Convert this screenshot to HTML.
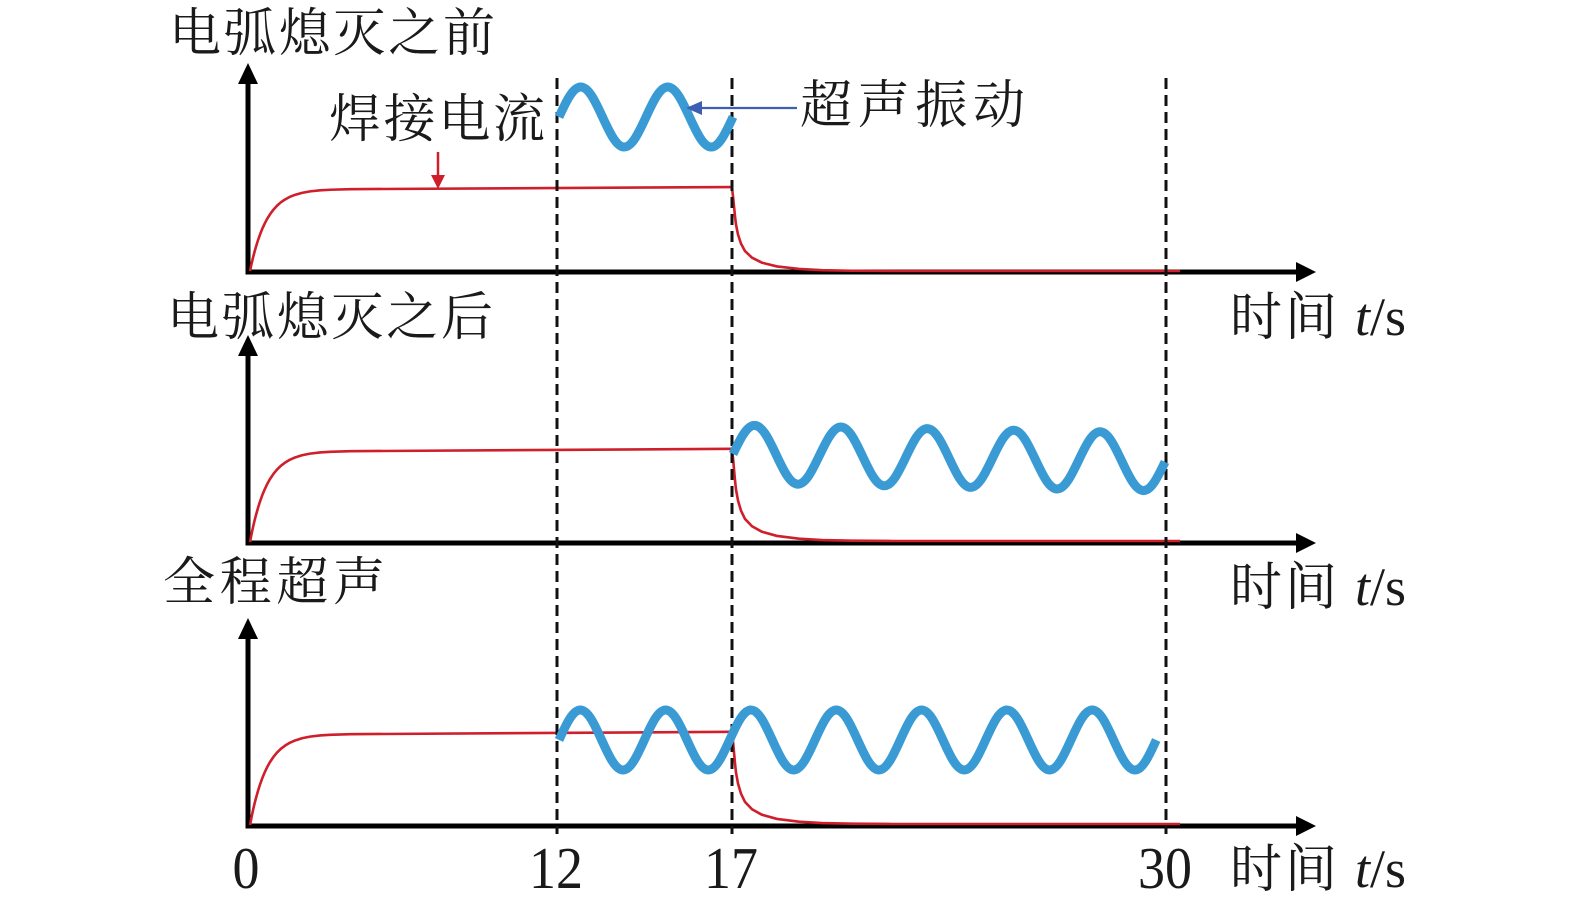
<!DOCTYPE html>
<html>
<head>
<meta charset="utf-8">
<style>
html,body{margin:0;padding:0;background:#fff;}
svg{display:block;}
.cn{font-family:"Liberation Serif","Noto Serif CJK SC",serif;font-size:52px;fill:#1a1a1a;}
.num{font-family:"Liberation Serif",serif;font-size:54px;fill:#1a1a1a;}
</style>
</head>
<body>
<svg width="1575" height="911" viewBox="0 0 1575 911" xmlns="http://www.w3.org/2000/svg">
<rect width="1575" height="911" fill="#fff"/>

<!-- ===== Titles ===== -->
<text class="cn" x="169" y="51" textLength="326" lengthAdjust="spacing">电弧熄灭之前</text>
<text class="cn" x="167" y="335" textLength="326" lengthAdjust="spacing">电弧熄灭之后</text>
<text class="cn" x="163" y="600" textLength="222" lengthAdjust="spacing">全程超声</text>
<text class="cn" x="329" y="137" textLength="216" lengthAdjust="spacing">焊接电流</text>
<text class="cn" x="800" y="123" textLength="225" lengthAdjust="spacing">超声振动</text>

<!-- time labels -->
<g>
<text class="cn" x="1230" y="335" textLength="107" lengthAdjust="spacing">时间</text>
<text class="num" x="1355" y="335"><tspan font-style="italic">t</tspan>/s</text>
<text class="cn" x="1230" y="605" textLength="107" lengthAdjust="spacing">时间</text>
<text class="num" x="1355" y="605"><tspan font-style="italic">t</tspan>/s</text>
<text class="cn" x="1230" y="887" textLength="107" lengthAdjust="spacing">时间</text>
<text class="num" x="1355" y="887"><tspan font-style="italic">t</tspan>/s</text>
</g>

<!-- tick labels -->
<g class="num" text-anchor="middle">
<text transform="translate(246,888) scale(1,1.1)">0</text>
<text transform="translate(556,888) scale(1,1.1)">12</text>
<text transform="translate(731,888) scale(1,1.1)">17</text>
<text transform="translate(1165,888) scale(1,1.1)">30</text>
</g>

<!-- ===== Axes ===== -->
<g stroke="#000" stroke-width="5" fill="none">
  <line x1="248" y1="274" x2="248" y2="80"/>
  <line x1="245.5" y1="272" x2="1300" y2="272"/>
  <line x1="248" y1="545" x2="248" y2="352"/>
  <line x1="245.5" y1="543" x2="1300" y2="543"/>
  <line x1="248" y1="828" x2="248" y2="636"/>
  <line x1="245.5" y1="826" x2="1300" y2="826"/>
</g>
<g fill="#000">
  <polygon points="248,63 258,84 238,84"/>
  <polygon points="248,335 258,356 238,356"/>
  <polygon points="248,618 258,639 238,639"/>
  <polygon points="1316,272 1296,262 1296,282"/>
  <polygon points="1316,543 1296,533 1296,553"/>
  <polygon points="1316,826 1296,816 1296,836"/>
</g>

<!-- ===== Red current curves ===== -->
<g fill="none" stroke="#cf1f2b" stroke-width="2.6" stroke-linejoin="round">
  <g transform="translate(250,271) scale(1,-82)">
    <path vector-effect="non-scaling-stroke" d="M0,0 L1.5,.084 3,.162 4.5,.233 6,.297 8,.375 10,.445 12.5,.521 15,.586 17.5,.643 20,.692 23.5,.749 27,.796 31,.839 35,.872 40,.905 45,.929 52,.953 60,.971 70,.984 80,.991 100,.998 482,1.024"/>
  </g>
  <g transform="translate(732,271) scale(1,-83)">
    <path vector-effect="non-scaling-stroke" d="M0,1 L1,.9 2,.78 3,.66 4,.56 6,.44 9,.33 13,.24 20,.16 30,.10 45,.055 67,.025 90,.01 120,.003 160,0 448,0"/>
  </g>
  <g transform="translate(250,542) scale(1,-91)">
    <path vector-effect="non-scaling-stroke" d="M0,0 L1.5,.084 3,.162 4.5,.233 6,.297 8,.375 10,.445 12.5,.521 15,.586 17.5,.643 20,.692 23.5,.749 27,.796 31,.839 35,.872 40,.905 45,.929 52,.953 60,.971 70,.984 80,.991 100,.998 482,1.024"/>
  </g>
  <g transform="translate(732,541) scale(1,-92)">
    <path vector-effect="non-scaling-stroke" d="M0,1 L1,.9 2,.78 3,.66 4,.56 6,.44 9,.33 13,.24 20,.16 30,.10 45,.055 67,.025 90,.01 120,.003 160,0 448,0"/>
  </g>
  <g transform="translate(250,825) scale(1,-91)">
    <path vector-effect="non-scaling-stroke" d="M0,0 L1.5,.084 3,.162 4.5,.233 6,.297 8,.375 10,.445 12.5,.521 15,.586 17.5,.643 20,.692 23.5,.749 27,.796 31,.839 35,.872 40,.905 45,.929 52,.953 60,.971 70,.984 80,.991 100,.998 482,1.024"/>
  </g>
  <g transform="translate(732,824) scale(1,-92)">
    <path vector-effect="non-scaling-stroke" d="M0,1 L1,.9 2,.78 3,.66 4,.56 6,.44 9,.33 13,.24 20,.16 30,.10 45,.055 67,.025 90,.01 120,.003 160,0 448,0"/>
  </g>
</g>

<!-- red arrow for 焊接电流 -->
<line x1="438" y1="152" x2="438" y2="177" stroke="#cf1f2b" stroke-width="2.5"/>
<polygon points="431,175 445,175 438,189" fill="#cf1f2b"/>

<!-- ===== Dashed lines ===== -->
<g stroke="#111" stroke-width="3" stroke-dasharray="11 6">
<line x1="557" y1="78" x2="557" y2="834"/>
<line x1="732" y1="78" x2="732" y2="834"/>
<line x1="1166" y1="78" x2="1166" y2="834"/>
</g>

<!-- ===== Blue ultrasonic waves ===== -->
<g fill="none" stroke="#3a9bd4" stroke-width="9" stroke-linecap="butt" stroke-linejoin="round">
  <g transform="translate(559,117) scale(21.75,30)">
    <path vector-effect="non-scaling-stroke" d="M0,0
      c .3343,-.5251 .6411,-1 1,-1 c .3589,0 .6657,.4749 1,1 c .3343,.5251 .6411,1 1,1 c .3589,0 .6657,-.4749 1,-1
      c .3343,-.5251 .6411,-1 1,-1 c .3589,0 .6657,.4749 1,1 c .3343,.5251 .6411,1 1,1 c .3589,0 .6657,-.4749 1,-1"/>
  </g>
  <g transform="translate(733,454) skewY(1.06) scale(21.6,29)">
    <path vector-effect="non-scaling-stroke" d="M0,0
      c .3343,-.5251 .6411,-1 1,-1 c .3589,0 .6657,.4749 1,1 c .3343,.5251 .6411,1 1,1 c .3589,0 .6657,-.4749 1,-1
      c .3343,-.5251 .6411,-1 1,-1 c .3589,0 .6657,.4749 1,1 c .3343,.5251 .6411,1 1,1 c .3589,0 .6657,-.4749 1,-1
      c .3343,-.5251 .6411,-1 1,-1 c .3589,0 .6657,.4749 1,1 c .3343,.5251 .6411,1 1,1 c .3589,0 .6657,-.4749 1,-1
      c .3343,-.5251 .6411,-1 1,-1 c .3589,0 .6657,.4749 1,1 c .3343,.5251 .6411,1 1,1 c .3589,0 .6657,-.4749 1,-1
      c .3343,-.5251 .6411,-1 1,-1 c .3589,0 .6657,.4749 1,1 c .3343,.5251 .6411,1 1,1 c .3589,0 .6657,-.4749 1,-1"/>
  </g>
  <g transform="translate(559,740) scale(21.33,30)">
    <path vector-effect="non-scaling-stroke" d="M0,0
      c .3343,-.5251 .6411,-1 1,-1 c .3589,0 .6657,.4749 1,1 c .3343,.5251 .6411,1 1,1 c .3589,0 .6657,-.4749 1,-1
      c .3343,-.5251 .6411,-1 1,-1 c .3589,0 .6657,.4749 1,1 c .3343,.5251 .6411,1 1,1 c .3589,0 .6657,-.4749 1,-1
      c .3343,-.5251 .6411,-1 1,-1 c .3589,0 .6657,.4749 1,1 c .3343,.5251 .6411,1 1,1 c .3589,0 .6657,-.4749 1,-1
      c .3343,-.5251 .6411,-1 1,-1 c .3589,0 .6657,.4749 1,1 c .3343,.5251 .6411,1 1,1 c .3589,0 .6657,-.4749 1,-1
      c .3343,-.5251 .6411,-1 1,-1 c .3589,0 .6657,.4749 1,1 c .3343,.5251 .6411,1 1,1 c .3589,0 .6657,-.4749 1,-1
      c .3343,-.5251 .6411,-1 1,-1 c .3589,0 .6657,.4749 1,1 c .3343,.5251 .6411,1 1,1 c .3589,0 .6657,-.4749 1,-1
      c .3343,-.5251 .6411,-1 1,-1 c .3589,0 .6657,.4749 1,1 c .3343,.5251 .6411,1 1,1 c .3589,0 .6657,-.4749 1,-1"/>
  </g>
</g>

<!-- blue annotation arrow -->
<line x1="797" y1="108" x2="698" y2="108" stroke="#3d5fb3" stroke-width="2.2"/>
<polygon points="686,108 702,101 702,115" fill="#3d5fb3"/>
</svg>
</body>
</html>
